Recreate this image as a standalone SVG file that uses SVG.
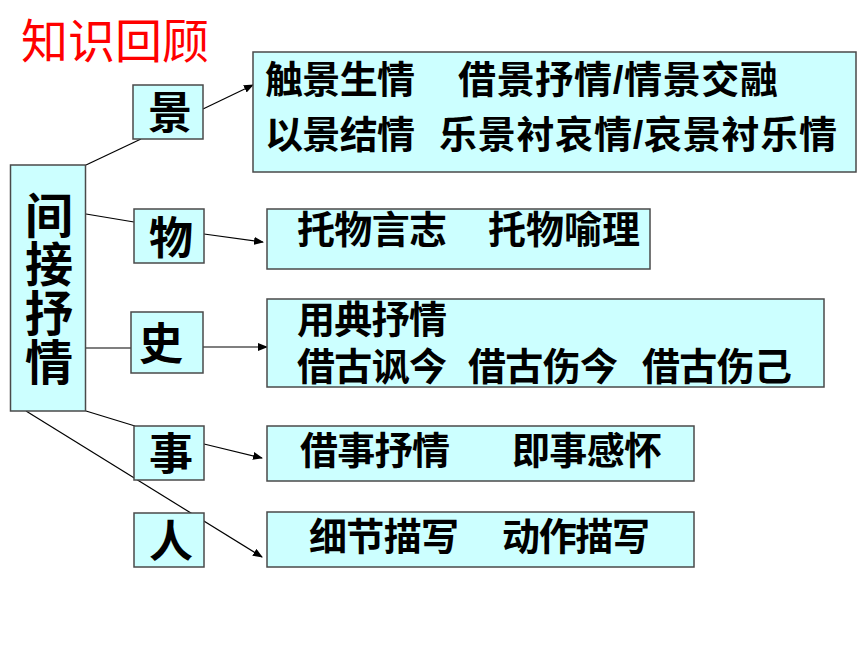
<svg xmlns="http://www.w3.org/2000/svg" width="860" height="645" viewBox="0 0 860 645">
<style>
.box{fill:#CCFFFF;stroke:#4a4a4a;stroke-width:1.5}
.t{font-family:"Liberation Sans","Noto Sans CJK SC",sans-serif;font-weight:bold;fill:#000}
.s{font-size:44px}
.r{font-size:38px}
.ln{stroke:#000;stroke-width:1.2;fill:none}
.ar{stroke:#000;stroke-width:1.2;fill:none;marker-end:url(#ah)}
</style>
<defs>
<marker id="ah" markerWidth="10" markerHeight="8" refX="9" refY="4" orient="auto" markerUnits="userSpaceOnUse">
<path d="M0,0 L10,4 L0,8 Z" fill="#000"/>
</marker>
</defs>
<rect width="860" height="645" fill="#fff"/>
<text x="21" y="58" font-family="'Liberation Sans','Noto Sans CJK SC',sans-serif" font-size="47" fill="#FF0000" textLength="188" lengthAdjust="spacing">知识回顾</text>
<g id="connectors">
<line class="ln" x1="86" y1="165" x2="141" y2="139"/>
<line class="ln" x1="86" y1="214" x2="134" y2="222"/>
<line class="ln" x1="86" y1="348" x2="131" y2="348"/>
<line class="ln" x1="86" y1="411" x2="135" y2="426"/>
<line class="ar" x1="26" y1="411" x2="262" y2="557"/>
<line class="ar" x1="203" y1="109" x2="253" y2="85"/>
<line class="ar" x1="204" y1="234" x2="263" y2="242"/>
<line class="ar" x1="203" y1="347" x2="267" y2="347"/>
<line class="ar" x1="204" y1="444" x2="262" y2="458"/>
</g>
<g id="main">
<rect class="box" x="10.5" y="165" width="75" height="246"/>
<text class="t" font-size="48" x="49" y="233" text-anchor="middle">间</text>
<text class="t" font-size="48" x="49" y="282" text-anchor="middle">接</text>
<text class="t" font-size="48" x="49" y="331" text-anchor="middle">抒</text>
<text class="t" font-size="48" x="49" y="380" text-anchor="middle">情</text>
</g>
<g id="n-jing">
<rect class="box" x="133" y="85" width="70" height="54"/>
<text class="t s" x="170" y="129" text-anchor="middle">景</text>
</g>
<g id="n-wu">
<rect class="box" x="134" y="209" width="70" height="54"/>
<text class="t s" x="171" y="254" text-anchor="middle">物</text>
</g>
<g id="n-shi">
<rect class="box" x="131" y="312" width="72" height="61"/>
<text class="t s" x="161" y="360" text-anchor="middle">史</text>
</g>
<g id="n-shi2">
<rect class="box" x="134" y="426" width="70" height="54"/>
<text class="t s" x="171" y="470" text-anchor="middle">事</text>
</g>
<g id="n-ren">
<rect class="box" x="134" y="513" width="70" height="54"/>
<text class="t s" x="171" y="557" text-anchor="middle">人</text>
</g>
<g id="b-jing">
<rect class="box" x="253" y="52" width="603" height="120"/>
<text class="t r" x="265" y="93" textLength="150" lengthAdjust="spacing">触景生情</text>
<text class="t r" x="458" y="93" textLength="320" lengthAdjust="spacing">借景抒情/情景交融</text>
<text class="t r" x="265" y="148" textLength="150" lengthAdjust="spacing">以景结情</text>
<text class="t r" x="439" y="148" textLength="398" lengthAdjust="spacing">乐景衬哀情/哀景衬乐情</text>
</g>
<g id="b-wu">
<rect class="box" x="267" y="209" width="383" height="60"/>
<text class="t r" x="297" y="243" textLength="150" lengthAdjust="spacing">托物言志</text>
<text class="t r" x="488" y="243" textLength="152" lengthAdjust="spacing">托物喻理</text>
</g>
<g id="b-shi">
<rect class="box" x="267" y="299" width="557" height="88"/>
<text class="t r" x="297" y="333" textLength="150" lengthAdjust="spacing">用典抒情</text>
<text class="t r" x="297" y="380" textLength="150" lengthAdjust="spacing">借古讽今</text>
<text class="t r" x="468" y="380" textLength="150" lengthAdjust="spacing">借古伤今</text>
<text class="t r" x="642" y="380" textLength="150" lengthAdjust="spacing">借古伤己</text>
</g>
<g id="b-shi2">
<rect class="box" x="267" y="426" width="427" height="55"/>
<text class="t r" x="300" y="464" textLength="150" lengthAdjust="spacing">借事抒情</text>
<text class="t r" x="512" y="464" textLength="150" lengthAdjust="spacing">即事感怀</text>
</g>
<g id="b-ren">
<rect class="box" x="267" y="512" width="427" height="55"/>
<text class="t r" x="309" y="550" textLength="150" lengthAdjust="spacing">细节描写</text>
<text class="t r" x="502" y="550" textLength="148" lengthAdjust="spacing">动作描写</text>
</g>
</svg>
